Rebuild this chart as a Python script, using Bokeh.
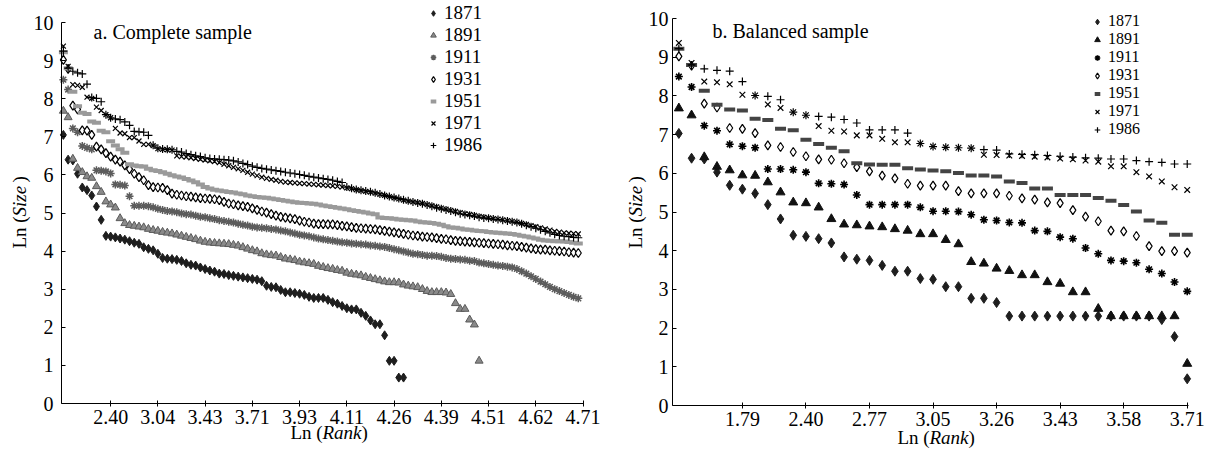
from bokeh.plotting import figure
from bokeh.layouts import row
from bokeh.models import FixedTicker, Legend, LegendItem, Label, Range1d
from bokeh.embed import file_html
from bokeh.resources import INLINE
from math import pi

years = ["1871", "1891", "1911", "1931", "1951", "1971", "1986"]

# ---------------- complete sample (panel a) : Ln(Size) by rank ----------------
c1871 = [7.05, 6.40, 6.38, 6.03, 5.67, 5.60, 5.46, 5.17, 4.82, 4.40,
         4.38, 4.36, 4.33, 4.30, 4.26, 4.22, 4.19, 4.10, 4.06, 4.02,
         3.93, 3.82, 3.80, 3.79, 3.77, 3.74, 3.68, 3.64, 3.62, 3.57,
         3.53, 3.49, 3.46, 3.41, 3.40, 3.37, 3.35, 3.33, 3.31, 3.29,
         3.27, 3.25, 3.21, 3.09, 3.06, 3.05, 2.98, 2.92, 2.92, 2.90,
         2.88, 2.85, 2.80, 2.77, 2.77, 2.77, 2.72, 2.66, 2.62, 2.56,
         2.50, 2.47, 2.47, 2.38, 2.30, 2.18, 2.08, 2.08, 1.79, 1.12,
         1.12, 0.68, 0.68]
c1891 = [7.68, 7.51, 6.42, 6.18, 6.07, 5.96, 5.92, 5.70, 5.55, 5.30,
         5.22, 5.14, 4.86, 4.73, 4.68, 4.66, 4.64, 4.62, 4.58, 4.55,
         4.53, 4.50, 4.48, 4.46, 4.43, 4.40, 4.37, 4.34, 4.31, 4.27,
         4.24, 4.22, 4.21, 4.20, 4.19, 4.18, 4.16, 4.14, 4.10, 4.06,
         4.02, 3.99, 3.94, 3.91, 3.89, 3.88, 3.84, 3.80, 3.78, 3.76,
         3.72, 3.70, 3.68, 3.66, 3.61, 3.58, 3.55, 3.53, 3.50, 3.48,
         3.43, 3.40, 3.38, 3.36, 3.32, 3.29, 3.26, 3.23, 3.20, 3.18,
         3.18, 3.17, 3.12, 3.09, 3.07, 3.05, 3.00, 2.95, 2.92, 2.92,
         2.92, 2.91, 2.87, 2.63, 2.48, 2.48, 2.20, 2.07, 1.12]
c1911 = [8.50, 8.24, 7.22, 7.12, 6.76, 6.71, 6.67, 6.12, 6.11, 6.09,
         6.04, 5.75, 5.74, 5.72, 5.44, 5.19, 5.19, 5.19, 5.18, 5.15,
         5.11, 5.08, 5.05, 5.04, 5.02, 4.99, 4.97, 4.96, 4.93, 4.90,
         4.89, 4.86, 4.84, 4.81, 4.79, 4.77, 4.75, 4.72, 4.69, 4.67,
         4.64, 4.62, 4.61, 4.60, 4.58, 4.57, 4.54, 4.52, 4.49, 4.46,
         4.43, 4.41, 4.39, 4.36, 4.33, 4.31, 4.29, 4.27, 4.25, 4.23,
         4.22, 4.20, 4.19, 4.18, 4.17, 4.15, 4.14, 4.12, 4.11, 4.08,
         4.05, 4.02, 3.99, 3.96, 3.93, 3.92, 3.90, 3.88, 3.88, 3.87,
         3.85, 3.82, 3.80, 3.79, 3.78, 3.77, 3.75, 3.74, 3.70, 3.68,
         3.66, 3.64, 3.62, 3.61, 3.59, 3.57, 3.53, 3.47, 3.41, 3.34,
         3.27, 3.20, 3.13, 3.06, 3.00, 2.95, 2.90, 2.85, 2.80, 2.76]
c1931 = [9.02, 8.78, 7.82, 7.72, 7.17, 7.16, 7.05, 6.74, 6.67, 6.57,
         6.48, 6.40, 6.35, 6.25, 6.15, 6.03, 5.94, 5.86, 5.73, 5.68,
         5.67, 5.66, 5.60, 5.51, 5.48, 5.46, 5.44, 5.43, 5.41, 5.39,
         5.38, 5.37, 5.36, 5.34, 5.29, 5.25, 5.23, 5.20, 5.18, 5.16,
         5.12, 5.08, 5.04, 5.01, 4.97, 4.93, 4.90, 4.88, 4.86, 4.84,
         4.80, 4.77, 4.75, 4.72, 4.71, 4.71, 4.70, 4.70, 4.68, 4.66,
         4.65, 4.63, 4.61, 4.60, 4.59, 4.58, 4.57, 4.55, 4.53, 4.51,
         4.49, 4.47, 4.45, 4.43, 4.41, 4.40, 4.38, 4.37, 4.36, 4.34,
         4.32, 4.31, 4.29, 4.27, 4.26, 4.25, 4.24, 4.23, 4.22, 4.21,
         4.20, 4.19, 4.18, 4.17, 4.15, 4.14, 4.13, 4.11, 4.09, 4.07,
         4.05, 4.04, 4.04, 4.02, 4.01, 4.00, 3.99, 3.97, 3.96, 3.95]
c1951 = [9.22, 8.80, 8.18, 7.80, 7.63, 7.60, 7.40, 7.37, 7.16, 7.12,
         6.88, 6.77, 6.67, 6.58, 6.28, 6.25, 6.23, 6.22, 6.16, 6.12,
         6.10, 6.07, 6.03, 5.99, 5.96, 5.93, 5.89, 5.85, 5.81, 5.75,
         5.68, 5.64, 5.61, 5.59, 5.57, 5.55, 5.54, 5.51, 5.49, 5.46,
         5.44, 5.42, 5.41, 5.40, 5.38, 5.36, 5.34, 5.32, 5.30, 5.28,
         5.27, 5.26, 5.25, 5.24, 5.22, 5.20, 5.18, 5.16, 5.14, 5.12,
         5.10, 5.07, 5.05, 5.03, 5.01, 4.99, 4.97, 4.88, 4.87, 4.86,
         4.85, 4.83, 4.82, 4.81, 4.80, 4.78, 4.76, 4.75, 4.74, 4.72,
         4.69, 4.65, 4.62, 4.61, 4.59, 4.57, 4.56, 4.54, 4.53, 4.52,
         4.50, 4.49, 4.48, 4.47, 4.46, 4.45, 4.43, 4.40, 4.38, 4.36,
         4.33, 4.30, 4.28, 4.27, 4.26, 4.26, 4.25, 4.24, 4.22, 4.20]
c1971 = [9.38, 8.85, 8.37, 8.35, 8.30, 8.04, 8.01, 7.78, 7.69, 7.58,
         7.50, 7.22, 7.10, 7.08, 6.98, 6.98, 6.89, 6.80, 6.80, 6.77,
         6.69, 6.67, 6.66, 6.65, 6.50, 6.48, 6.47, 6.45, 6.43, 6.41,
         6.39, 6.37, 6.35, 6.32, 6.28, 6.24, 6.20, 6.16, 6.12, 6.07,
         6.02, 5.98, 5.94, 5.91, 5.88, 5.86, 5.83, 5.81, 5.80, 5.79,
         5.78, 5.77, 5.76, 5.75, 5.74, 5.73, 5.72, 5.71, 5.70, 5.68,
         5.66, 5.64, 5.61, 5.59, 5.57, 5.55, 5.52, 5.49, 5.46, 5.43,
         5.40, 5.37, 5.34, 5.31, 5.29, 5.27, 5.25, 5.22, 5.19, 5.16,
         5.13, 5.10, 5.07, 5.04, 5.01, 4.98, 4.96, 4.94, 4.91, 4.89,
         4.87, 4.85, 4.84, 4.82, 4.80, 4.78, 4.76, 4.73, 4.70, 4.67,
         4.64, 4.61, 4.58, 4.55, 4.52, 4.50, 4.48, 4.47, 4.46, 4.45]
c1986 = [9.25, 8.80, 8.72, 8.68, 8.65, 8.38, 8.03, 8.01, 7.92, 7.58,
         7.50, 7.47, 7.45, 7.39, 7.30, 7.14, 7.13, 7.12, 7.04, 6.78,
         6.70, 6.68, 6.67, 6.66, 6.62, 6.60, 6.56, 6.53, 6.50, 6.48,
         6.45, 6.43, 6.42, 6.41, 6.40, 6.39, 6.37, 6.34, 6.30, 6.27,
         6.23, 6.20, 6.17, 6.15, 6.13, 6.11, 6.09, 6.07, 6.05, 6.03,
         6.01, 5.99, 5.96, 5.94, 5.92, 5.90, 5.88, 5.86, 5.83, 5.80,
         5.68, 5.65, 5.62, 5.60, 5.58, 5.56, 5.53, 5.50, 5.46, 5.43,
         5.41, 5.38, 5.35, 5.32, 5.29, 5.26, 5.24, 5.21, 5.18, 5.14,
         5.11, 5.08, 5.05, 5.02, 4.98, 4.96, 4.94, 4.92, 4.89, 4.87,
         4.86, 4.84, 4.83, 4.81, 4.79, 4.77, 4.75, 4.72, 4.68, 4.64,
         4.60, 4.56, 4.52, 4.48, 4.44, 4.41, 4.39, 4.38, 4.36, 4.35]

# ---------------- balanced sample (panel b) ----------------
b1871 = [7.03, 6.39, 6.37, 6.03, 5.69, 5.59, 5.48, 5.19, 4.82, 4.40,
         4.37, 4.31, 4.20, 3.84, 3.78, 3.75, 3.62, 3.47, 3.47, 3.28,
         3.26, 3.07, 3.07, 2.77, 2.77, 2.66, 2.31, 2.31, 2.31, 2.31,
         2.31, 2.31, 2.31, 2.31, 2.31, 2.31, 2.31, 2.31, 2.22, 1.78,
         0.69]
b1891 = [7.68, 7.50, 6.42, 6.17, 6.08, 5.95, 5.94, 5.77, 5.51, 5.25,
         5.23, 5.12, 4.82, 4.68, 4.66, 4.63, 4.61, 4.56, 4.52, 4.43,
         4.43, 4.28, 4.17, 3.71, 3.67, 3.54, 3.48, 3.37, 3.37, 3.19,
         3.15, 2.93, 2.93, 2.50, 2.31, 2.31, 2.31, 2.31, 2.31, 2.31,
         1.08]
b1911 = [8.50, 8.23, 7.23, 7.10, 6.75, 6.70, 6.66, 6.11, 6.11, 6.09,
         6.03, 5.74, 5.73, 5.71, 5.44, 5.19, 5.19, 5.19, 5.19, 5.12,
         5.02, 5.02, 5.01, 4.93, 4.80, 4.78, 4.73, 4.72, 4.52, 4.50,
         4.35, 4.31, 4.07, 3.92, 3.75, 3.73, 3.69, 3.52, 3.41, 3.19,
         2.95]
b1931 = [9.02, 8.78, 7.80, 7.70, 7.17, 7.15, 7.04, 6.72, 6.68, 6.55,
         6.44, 6.36, 6.35, 6.26, 6.16, 6.05, 5.94, 5.87, 5.73, 5.68,
         5.68, 5.68, 5.54, 5.48, 5.48, 5.48, 5.42, 5.35, 5.32, 5.25,
         5.23, 5.05, 4.88, 4.76, 4.52, 4.50, 4.38, 4.12, 3.99, 3.99,
         3.95]
b1951 = [9.22, 8.80, 8.13, 7.77, 7.65, 7.62, 7.41, 7.38, 7.15, 7.11,
         6.87, 6.76, 6.66, 6.57, 6.26, 6.23, 6.22, 6.22, 6.13, 6.10,
         6.07, 6.05, 6.01, 5.94, 5.94, 5.92, 5.79, 5.75, 5.61, 5.61,
         5.44, 5.44, 5.44, 5.36, 5.29, 5.18, 5.01, 4.78, 4.72, 4.41,
         4.41]
b1971 = [9.37, 8.85, 8.37, 8.35, 8.30, 8.03, 8.01, 7.78, 7.69, 7.58,
         7.50, 7.22, 7.10, 7.08, 6.98, 6.98, 6.89, 6.80, 6.80, 6.77,
         6.69, 6.67, 6.66, 6.65, 6.48, 6.47, 6.46, 6.45, 6.43, 6.41,
         6.38, 6.36, 6.33, 6.30, 6.18, 6.18, 6.03, 5.92, 5.79, 5.64,
         5.57]
b1986 = [9.22, 8.80, 8.70, 8.66, 8.64, 8.37, 8.01, 7.99, 7.90, 7.58,
         7.50, 7.47, 7.45, 7.39, 7.30, 7.12, 7.12, 7.12, 7.04, 6.77,
         6.69, 6.67, 6.66, 6.65, 6.61, 6.60, 6.50, 6.49, 6.48, 6.46,
         6.44, 6.42, 6.40, 6.39, 6.37, 6.37, 6.33, 6.30, 6.28, 6.24,
         6.24]

complete = [c1871, c1891, c1911, c1931, c1951, c1971, c1986]
balanced = [b1871, b1891, b1911, b1931, b1951, b1971, b1986]

ticks_a = [11, 21, 31, 41, 51, 61, 71, 81, 91, 101, 111]
labels_a = ["2.40", "3.04", "3.43", "3.71", "3.93", "4.11", "4.26", "4.39", "4.51", "4.62", "4.71"]
ticks_b = [6, 11, 16, 21, 26, 31, 36, 41]
labels_b = ["1.79", "2.40", "2.77", "3.05", "3.26", "3.43", "3.58", "3.71"]

FONT = "Liberation Serif"

style_a = [
    dict(marker="diamond", size=9, fill_color="#1e1e1e", line_color="#1e1e1e", line_width=1),
    dict(marker="triangle", size=8, fill_color="#8a8a8a", line_color="#5a5a5a", line_width=1),
    dict(marker="asterisk", size=8, fill_color=None, line_color="#5c5c5c", line_width=1.5),
    dict(marker="diamond", size=9, fill_color="white", line_color="black", line_width=1.2),
    dict(marker="dash", size=9, fill_color=None, line_color="#9a9a9a", line_width=4),
    dict(marker="x", size=7, fill_color=None, line_color="black", line_width=1.2),
    dict(marker="cross", size=8, fill_color=None, line_color="black", line_width=1.2),
]
style_b = [
    dict(marker="diamond", size=10, fill_color="#1e1e1e", line_color="#1e1e1e", line_width=1),
    dict(marker="triangle", size=9, fill_color="#111111", line_color="#111111", line_width=1),
    dict(marker="asterisk", size=8, fill_color=None, line_color="black", line_width=1.6),
    dict(marker="diamond", size=9, fill_color="white", line_color="black", line_width=1.2),
    dict(marker="dash", size=11, fill_color=None, line_color="#444444", line_width=4),
    dict(marker="x", size=8, fill_color=None, line_color="black", line_width=1.2),
    dict(marker="cross", size=8, fill_color=None, line_color="black", line_width=1.2),
]


def make_panel(series, styles, x0, x1, ticks, labels, W, H, off, fl, fr, ft, fb,
               title, legend_bl, legend_font, legend_row, ylab_standoff,
               title_px, title_py, xlab_px, xlab_py, ylab_px, ylab_py):
    # fl, fr, ft, fb: pixel edges of the data box (global canvas coords)
    ppx = (fr - fl) / (x1 - x0)
    ppy = (fb - ft) / 10.0
    lo_local = fl - off

    xs = x0 - lo_local / ppx
    xe = x0 + (W - lo_local) / ppx
    ys = -(H - fb) / ppy
    ye = fb / ppy

    p = figure(width=W, height=H, min_border=0, min_border_left=0, min_border_right=0,
               min_border_top=0, min_border_bottom=0, output_backend="svg",
               toolbar_location=None, x_range=Range1d(xs, xe), y_range=Range1d(ys, ye))
    p.outline_line_color = None
    p.xgrid.grid_line_color = None
    p.ygrid.grid_line_color = None
    p.background_fill_color = "white"
    p.border_fill_color = "white"

    def dx(px):
        return x0 + (px - fl) / ppx

    def dy(py):
        return (fb - py) / ppy

    items = []
    for yr, vals, st in zip(years, series, styles):
        ranks = list(range(1, len(vals) + 1))
        r = p.scatter(ranks, vals, **st)
        items.append(LegendItem(label=yr, renderers=[r]))

    for ax in (p.xaxis, p.yaxis):
        ax.axis_line_color = "black"
        ax.major_tick_line_color = "black"
        ax.minor_tick_line_color = None
        ax.major_label_text_font = FONT
        ax.major_label_text_font_size = "20px"
        ax.major_label_text_color = "black"
    p.xaxis.fixed_location = 0
    p.xaxis.bounds = (x0, x1)
    p.xaxis.ticker = FixedTicker(ticks=ticks)
    p.xaxis.major_label_overrides = {t: l for t, l in zip(ticks, labels)}
    p.xaxis.major_tick_in = 3
    p.xaxis.major_tick_out = 3
    p.xaxis.major_label_standoff = 3
    p.yaxis.fixed_location = x0
    p.yaxis.bounds = (0, 10)
    p.yaxis.ticker = FixedTicker(ticks=list(range(0, 11)))
    p.yaxis.major_tick_in = 4
    p.yaxis.major_tick_out = 0
    p.yaxis.major_label_standoff = ylab_standoff

    leg = Legend(items=items, location=(legend_bl[0] - off, H - legend_bl[1]),
                 border_line_color=None, background_fill_alpha=0, padding=0, margin=0,
                 spacing=0, glyph_width=14, glyph_height=legend_row, label_standoff=4,
                 label_height=legend_row, label_text_font=FONT,
                 label_text_font_size=legend_font, label_text_color="black")
    p.add_layout(leg)

    p.add_layout(Label(x=dx(title_px), y=dy(title_py), text=title, text_font=FONT,
                       text_color="black", text_font_size="20px", text_align="left",
                       text_baseline="middle"))

    # x-axis title: Ln (Rank)
    w1, w2 = 32, 39
    p.add_layout(Label(x=dx(xlab_px), y=dy(xlab_py), text="Ln (", text_font=FONT,
                       text_color="black", text_font_size="19px", text_align="left",
                       text_baseline="middle"))
    p.add_layout(Label(x=dx(xlab_px + w1), y=dy(xlab_py), text="Rank", text_font=FONT,
                       text_color="black", text_font_style="italic", text_font_size="19px",
                       text_align="left", text_baseline="middle"))
    p.add_layout(Label(x=dx(xlab_px + w1 + w2), y=dy(xlab_py), text=")", text_font=FONT,
                       text_color="black", text_font_size="19px", text_align="left",
                       text_baseline="middle"))
    # y-axis title: Ln (Size)
    v1, v2 = 32, 34
    p.add_layout(Label(x=dx(ylab_px), y=dy(ylab_py), text="Ln (", text_font=FONT, angle=pi / 2,
                       text_color="black", text_font_size="19px", text_align="left",
                       text_baseline="middle"))
    p.add_layout(Label(x=dx(ylab_px), y=dy(ylab_py - v1), text="Size", text_font=FONT,
                       angle=pi / 2, text_color="black", text_font_style="italic",
                       text_font_size="19px", text_align="left", text_baseline="middle"))
    p.add_layout(Label(x=dx(ylab_px), y=dy(ylab_py - v1 - v2), text=")", text_font=FONT,
                       angle=pi / 2, text_color="black", text_font_size="19px",
                       text_align="left", text_baseline="middle"))
    return p


pa = make_panel(complete, style_a, 0.6, 111.1, ticks_a, labels_a,
                W=605, H=452, off=0, fl=61, fr=583, ft=22, fb=403,
                title="a. Complete sample", legend_bl=(426, 156), legend_font="19px",
                legend_row=18, ylab_standoff=8, title_px=93, title_py=31,
                xlab_px=290, xlab_py=432, ylab_px=19, ylab_py=248)
pb = make_panel(balanced, style_b, 0.5, 41.1, ticks_b, labels_b,
                W=604, H=452, off=605, fl=672, fr=1188, ft=18, fb=405,
                title="b. Balanced sample", legend_bl=(1090, 138), legend_font="16px",
                legend_row=15, ylab_standoff=4, title_px=712, title_py=30,
                xlab_px=897, xlab_py=437, ylab_px=635, ylab_py=248)

layout = row(pa, pb)
open("out.html", "w").write(file_html(layout, INLINE))
